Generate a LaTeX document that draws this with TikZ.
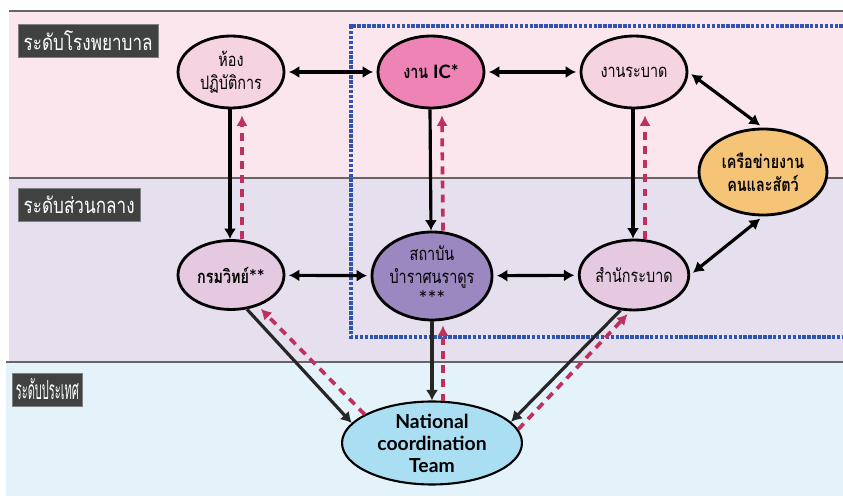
\documentclass[tikz,border=0pt]{standalone}
\usepackage{fontspec}
\newfontfamily\thaifont[Script=Thai,FakeStretch=0.78]{Loma}
\newfontfamily\thainarrow[Script=Thai,FakeStretch=0.42]{Loma}
\newfontfamily\latinfont{Lato}
\usetikzlibrary{calc,shapes.geometric,arrows.meta}
\definecolor{bandpink}{HTML}{FBE6ED}
\definecolor{bandlav}{HTML}{E6DFEE}
\definecolor{bandblue}{HTML}{E4F3FA}
\definecolor{boxgray}{HTML}{404241}
\definecolor{lightpink}{HTML}{F6D3E1}
\definecolor{icpink}{HTML}{EE84B5}
\definecolor{lightmauve}{HTML}{E4C9E0}
\definecolor{instpurple}{HTML}{9B88C1}
\definecolor{netorange}{HTML}{F6C477}
\definecolor{natblue}{HTML}{A9DEF3}
\definecolor{backred}{HTML}{C0305F}
\definecolor{framblue}{HTML}{2F55B0}

\tikzset{
  level/.style={fill=boxgray,draw=gray,text=white,anchor=west,minimum height=0.66cm,inner xsep=3pt,
    font=\thaifont\fontsize{12.5}{15}\selectfont},
  unit/.style={ellipse,draw,line width=1.6pt,inner sep=0pt,align=center,
    font=\thaifont\fontsize{10.5}{13}\selectfont},
  link/.style={line width=1.8pt,{Latex[length=6pt,width=7pt]}-{Latex[length=6pt,width=7pt]},shorten <=2pt,shorten >=2pt},
  report/.style={line width=1.8pt,draw=black!85,-{Latex[length=6pt,width=7pt]}},
  feedback/.style={line width=2.1pt,draw=backred,dash pattern=on 4.5pt off 3.5pt,-{Latex[length=6pt,width=6.5pt]}},
}

\begin{document}
\begin{tikzpicture}[x=0.02cm,y=-0.02cm]
  \useasboundingbox (0,0) rectangle (843,496);

  \fill[bandpink] (9,11) rectangle (843,178);
  \fill[bandlav] (9,178) rectangle (843,362);
  \fill[bandblue] (6,362) rectangle (843,496);
  \foreach \y/\x in {11/9,178/9,362/6}
    \draw[line width=1.2pt,black!60] (\x,\y) -- (843,\y);

  \draw[framblue,line width=2pt,dash pattern=on 2pt off 0.8pt]
    (843,26) -- (351,26) -- (351,337) -- (843,337);

  \node[level] (hospital) at (18,40.5) {ระดับโรงพยาบาล};
  \node[level] (central) at (18,204.5) {ระดับส่วนกลาง};
  \node[level,inner xsep=2pt,font=\thainarrow\fontsize{15}{17}\selectfont] (country) at (12,389.5) {ระดับประเทศ};

  \node[unit,fill=lightpink,minimum width=2.12cm,minimum height=1.44cm] (lab) at (231,72) {ห้อง\\ปฏิบัติการ};
  \node[unit,fill=icpink,minimum width=2.12cm,minimum height=1.44cm] (ic) at (431,72) {\bfseries งาน {\latinfont IC*}};
  \node[unit,fill=lightpink,minimum width=2.12cm,minimum height=1.44cm] (epi) at (634,72) {งานระบาด};
  \node[unit,fill=netorange,minimum width=2.56cm,minimum height=1.72cm] (net) at (763,172) {\bfseries เครือข่ายงาน\\\bfseries คนและสัตว์};
  \node[unit,fill=lightmauve,minimum width=2.12cm,minimum height=1.38cm] (dmsc) at (231,275) {\bfseries กรมวิทย์{\latinfont **}};
  \node[unit,fill=instpurple,minimum width=2.28cm,minimum height=1.76cm] (bamras) at (432,276) {สถาบัน\\บำราศนราดูร\\{\latinfont\fontsize{12}{13}\selectfont ***}};
  \node[unit,fill=lightmauve,minimum width=2.12cm,minimum height=1.40cm] (doe) at (634,275) {สำนักระบาด};
  \node[unit,fill=natblue,line width=1.2pt,minimum width=3.6cm,minimum height=1.66cm,
    font=\latinfont\bfseries\fontsize{11}{12.5}\selectfont] (nct) at (432,443) {National\\coordination\\Team};

  \draw[link] (lab) -- (ic);
  \draw[link] (ic) -- (epi);
  \draw[link] (epi.east) -- (net.north);
  \draw[link] (net.south) -- (doe.east);
  \draw[link] (dmsc) -- (bamras);
  \draw[link] (bamras) -- (doe);

  \foreach \top/\bot in {lab/dmsc,ic/bamras,epi/doe}{
    \draw[report,draw=black] ($(\top.south)+(-1,0)$) -- ($(\bot.north)+(-1,0)$);
    \draw[feedback] ($(\bot.north)+(11,0)$) -- ($(\top.south)+(11,6)$);
  }

  \draw[report] (dmsc.-65) -- (nct.166);
  \draw[feedback] (nct.157) -- ($(dmsc.-48)+(2,3)$);
  \draw[report] (bamras.south) -- (nct.north);
  \draw[feedback] ($(nct.north)+(11,1)$) -- ($(bamras.south)+(11,4)$);
  \draw[report] (doe.-111) -- (nct.15);
  \draw[feedback] (nct.9) -- ($(doe.-100)+(0,3)$);
\end{tikzpicture}
\end{document}
